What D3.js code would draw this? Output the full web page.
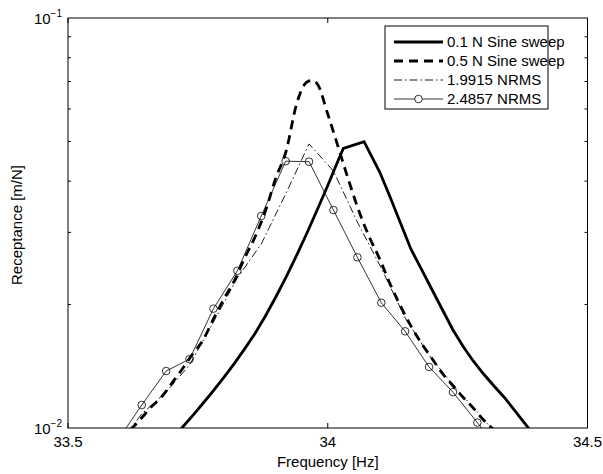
<!DOCTYPE html>
<html>
<head>
<meta charset="utf-8">
<script src="https://cdn.jsdelivr.net/npm/d3@7"></script>
<style>
  body { margin: 0; background: #fff; }
  text { font-family: "Liberation Sans", Arial, sans-serif; fill: #000; }
</style>
</head>
<body>
<svg width="603" height="474"></svg>
<script>
// series data (frequency in Hz, receptance in m/N)
const sweep01Freq = [33.70, 33.72, 33.74, 33.76, 33.78, 33.80, 33.82, 33.84, 33.86, 33.88, 33.90, 33.92, 33.94, 33.96, 33.98, 34.00, 34.02, 34.03, 34.07, 34.08, 34.10, 34.12, 34.14, 34.16, 34.18, 34.20, 34.22, 34.24, 34.26, 34.28, 34.30, 34.32, 34.34, 34.36, 34.38, 34.40];
const sweep01Val = [0.00924, 0.01003, 0.01072, 0.01149, 0.01234, 0.01329, 0.01436, 0.01560, 0.01700, 0.01876, 0.02087, 0.02336, 0.02635, 0.02990, 0.03411, 0.03904, 0.04492, 0.04806, 0.04994, 0.04713, 0.04211, 0.03660, 0.03162, 0.02733, 0.02443, 0.02183, 0.01951, 0.01744, 0.01585, 0.01457, 0.01354, 0.01266, 0.01187, 0.01103, 0.01023, 0.00951];

const sweep05Freq = [33.62, 33.64, 33.66, 33.68, 33.70, 33.72, 33.74, 33.76, 33.78, 33.80, 33.82, 33.84, 33.86, 33.88, 33.90, 33.92, 33.94, 33.96, 33.97, 33.98, 34.00, 34.02, 34.04, 34.06, 34.08, 34.10, 34.12, 34.14, 34.16, 34.18, 34.20, 34.22, 34.24, 34.26, 34.28, 34.30, 34.32, 34.34];
const sweep05Val = [0.00990, 0.01052, 0.01125, 0.01190, 0.01287, 0.01393, 0.01515, 0.01639, 0.01845, 0.02064, 0.02284, 0.02598, 0.02923, 0.03382, 0.04072, 0.04739, 0.06171, 0.06982, 0.07041, 0.06904, 0.05833, 0.04847, 0.04026, 0.03382, 0.02923, 0.02583, 0.02246, 0.01984, 0.01774, 0.01612, 0.01481, 0.01362, 0.01273, 0.01190, 0.01119, 0.01046, 0.00989, 0.00935];

const randFreq = [33.596, 33.642, 33.689, 33.734, 33.780, 33.826, 33.872, 33.919, 33.964, 34.011, 34.057, 34.103, 34.149, 34.195, 34.241, 34.288, 34.334];
const rms19Val = [0.00909, 0.01082, 0.01224, 0.01425, 0.01814, 0.02323, 0.02811, 0.03722, 0.04930, 0.04235, 0.03180, 0.02456, 0.01855, 0.01506, 0.01273, 0.01094, 0.00935];
const rms24Val = [0.00935, 0.01138, 0.01377, 0.01472, 0.01955, 0.02418, 0.03289, 0.04475, 0.04462, 0.03401, 0.02608, 0.02021, 0.01721, 0.01409, 0.01223, 0.01031, 0.00869];

const legendLabels = ["0.1 N Sine sweep", "0.5 N Sine sweep", "1.9915 NRMS", "2.4857 NRMS"];
const xTicks = [33.5, 34, 34.5];
const yMajor = [0.01, 0.1];
const yMinor = [0.02, 0.03, 0.04, 0.05, 0.06, 0.07, 0.08, 0.09];

const svg = d3.select("svg");
const pLeft = 68, pRight = 587.5, pTop = 18, pBottom = 428;

const x = d3.scaleLinear().domain([33.5, 34.5]).range([pLeft, pRight]);
const y = d3.scaleLog().domain([0.01, 0.1]).range([pBottom, pTop]);

svg.append("defs").append("clipPath").attr("id", "plotclip")
  .append("rect").attr("x", pLeft).attr("y", pTop)
  .attr("width", pRight - pLeft).attr("height", pBottom - pTop);

const zip = (fs, vs) => fs.map((f, i) => ({ f: f, v: vs[i] }));
const line = d3.line().x(d => x(d.f)).y(d => y(d.v));
const smoothLine = d3.line().x(d => x(d.f)).y(d => y(d.v)).curve(d3.curveMonotoneX);

const styles = [
  { w: 2.8, dash: null },
  { w: 2.8, dash: "9,6" },
  { w: 0.9, dash: "8,3,1.5,3" },
  { w: 0.8, dash: null }
];
const series = [
  zip(sweep01Freq, sweep01Val),
  zip(sweep05Freq, sweep05Val),
  zip(randFreq, rms19Val),
  zip(randFreq, rms24Val)
];

const plot = svg.append("g").attr("clip-path", "url(#plotclip)");
series.forEach((s, i) => {
  plot.append("path")
    .datum(s)
    .attr("d", i === 1 ? smoothLine : line)
    .attr("fill", "none")
    .attr("stroke", "#000")
    .attr("stroke-width", styles[i].w)
    .attr("stroke-dasharray", styles[i].dash);
});

plot.selectAll("circle.mk")
  .data(series[3])
  .enter().append("circle")
  .attr("class", "mk")
  .attr("cx", d => x(d.f))
  .attr("cy", d => y(d.v))
  .attr("r", 3.8)
  .attr("fill", "none")
  .attr("stroke", "#000")
  .attr("stroke-width", 0.8);

// frame
svg.append("rect")
  .attr("x", pLeft).attr("y", pTop)
  .attr("width", pRight - pLeft).attr("height", pBottom - pTop)
  .attr("fill", "none").attr("stroke", "#000").attr("stroke-width", 1);

// x ticks (inward, bottom and top)
xTicks.forEach(t => {
  svg.append("line").attr("x1", x(t)).attr("x2", x(t))
    .attr("y1", pBottom).attr("y2", pBottom - 5).attr("stroke", "#000");
  svg.append("line").attr("x1", x(t)).attr("x2", x(t))
    .attr("y1", pTop).attr("y2", pTop + 5).attr("stroke", "#000");
  svg.append("text")
    .attr("x", x(t)).attr("y", pBottom + 19)
    .attr("text-anchor", "middle")
    .style("font-size", "15px")
    .text(d3.format("")(t));
});

// y minor ticks, both sides
yMinor.forEach(t => {
  svg.append("line").attr("x1", pLeft).attr("x2", pLeft + 3)
    .attr("y1", y(t)).attr("y2", y(t)).attr("stroke", "#000");
  svg.append("line").attr("x1", pRight).attr("x2", pRight - 3)
    .attr("y1", y(t)).attr("y2", y(t)).attr("stroke", "#000");
});

// y major labels 10^-1, 10^-2
yMajor.forEach(t => {
  const lbl = svg.append("text")
    .attr("x", pLeft - 6).attr("y", y(t) + 6)
    .attr("text-anchor", "end")
    .style("font-size", "15px");
  lbl.append("tspan").text("10");
  lbl.append("tspan").attr("dy", -7).style("font-size", "10px")
    .text("\u2212" + Math.round(-Math.log10(t)));
});

// axis titles
svg.append("text")
  .attr("x", (pLeft + pRight) / 2).attr("y", 467)
  .attr("text-anchor", "middle")
  .style("font-size", "15px")
  .text("Frequency [Hz]");

svg.append("text")
  .attr("transform", "translate(22," + ((pTop + pBottom) / 2 + 2) + ")rotate(-90)")
  .attr("text-anchor", "middle")
  .style("font-size", "15px")
  .text("Receptance [m/N]");

// legend
const lg = svg.append("g").attr("transform", "translate(385,26)");
lg.append("rect")
  .attr("width", 163).attr("height", 83)
  .attr("fill", "#fff").attr("stroke", "#000").attr("stroke-width", 1);

const rows = lg.selectAll(".legend")
  .data(legendLabels)
  .enter().append("g")
  .attr("class", "legend")
  .attr("transform", (d, i) => "translate(0," + (16 + i * 19) + ")");

rows.append("line")
  .attr("x1", 9).attr("x2", 58)
  .attr("stroke", "#000")
  .attr("stroke-width", (d, i) => styles[i].w)
  .attr("stroke-dasharray", (d, i) => styles[i].dash);

rows.filter((d, i) => i === 3).append("circle")
  .attr("cx", 33.5).attr("r", 3.8)
  .attr("fill", "#fff").attr("stroke", "#000").attr("stroke-width", 0.8);

rows.append("text")
  .attr("x", 62).attr("y", 5)
  .style("font-size", "15px")
  .text(d => d);
</script>
</body>
</html>
